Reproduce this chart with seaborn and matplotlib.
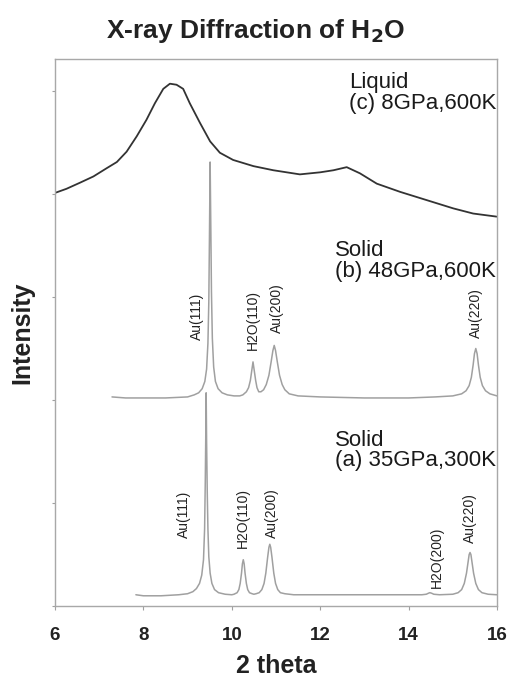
import numpy as np
import pandas as pd
import matplotlib
matplotlib.use("Agg")
import matplotlib.pyplot as plt
import seaborn as sns

# ---- data ----
liquid_x = [6.0, 6.26, 6.57, 6.87, 7.17, 7.40, 7.62, 7.85, 8.07, 8.26, 8.45, 8.60, 8.75, 8.90,
            9.05, 9.28, 9.51, 9.73, 10.03, 10.49, 10.94, 11.54, 12.0, 12.30, 12.60, 12.90,
            13.28, 13.81, 14.41, 15.01, 15.46, 15.99]
liquid_y = [4.01, 4.05, 4.11, 4.17, 4.25, 4.31, 4.41, 4.56, 4.72, 4.88, 5.02, 5.07, 5.06, 5.02,
            4.88, 4.69, 4.51, 4.40, 4.33, 4.27, 4.23, 4.19, 4.21, 4.23, 4.26, 4.20,
            4.10, 4.02, 3.94, 3.86, 3.81, 3.78]

solid_b_x = [7.29, 7.6, 8.0, 8.5, 9.0, 9.15, 9.25, 9.33, 9.39, 9.43, 9.46, 9.48, 9.495, 9.51,
             9.525, 9.54, 9.56, 9.59, 9.63, 9.69, 9.78, 9.9, 10.05, 10.18,
             10.25, 10.33, 10.38, 10.42, 10.45, 10.48, 10.51, 10.54, 10.57, 10.61,
             10.66, 10.72, 10.78, 10.84, 10.89, 10.93, 10.96, 10.99, 11.03, 11.08, 11.14, 11.2,
             11.3, 11.5, 12.0, 13.0, 14.0, 14.6, 15.0, 15.2, 15.3, 15.37, 15.42, 15.46, 15.49,
             15.52, 15.55, 15.58, 15.62, 15.67, 15.74, 15.84, 16.0]
solid_b_y = [2.03, 2.02, 2.02, 2.02, 2.03, 2.05, 2.07, 2.11, 2.18, 2.30, 2.55, 2.95, 3.60, 4.31,
             3.70, 3.05, 2.60, 2.32, 2.18, 2.11, 2.07, 2.05, 2.04, 2.04,
             2.05, 2.08, 2.12, 2.19, 2.28, 2.37, 2.28, 2.19, 2.12, 2.08,
             2.08, 2.10, 2.15, 2.24, 2.37, 2.48, 2.53, 2.48, 2.37, 2.24, 2.15, 2.10,
             2.06, 2.04, 2.03, 2.02, 2.02, 2.03, 2.04, 2.06, 2.09, 2.14, 2.22, 2.34, 2.45,
             2.50, 2.45, 2.34, 2.22, 2.14, 2.09, 2.06, 2.04]

solid_a_x = [7.83, 8.0, 8.4, 8.8, 9.0, 9.12, 9.2, 9.27, 9.32, 9.36, 9.385, 9.40, 9.41, 9.42,
             9.43, 9.445, 9.46, 9.48, 9.51, 9.55, 9.61, 9.7, 9.85, 10.0,
             10.05, 10.12, 10.16, 10.19, 10.22, 10.24, 10.26, 10.28, 10.30, 10.33, 10.36, 10.40,
             10.46, 10.50, 10.55, 10.62, 10.68, 10.73, 10.77, 10.81, 10.84, 10.86, 10.88, 10.91,
             10.95, 10.99, 11.04, 11.1, 11.2, 11.4, 12.0, 13.0, 14.0, 14.3, 14.4, 14.45, 14.48,
             14.52, 14.57, 14.7, 15.0, 15.12, 15.2, 15.26, 15.31, 15.35, 15.37, 15.39, 15.41,
             15.43, 15.47, 15.52, 15.58, 15.66, 15.8, 16.0]
solid_a_y = [0.11, 0.10, 0.10, 0.11, 0.12, 0.14, 0.17, 0.22, 0.30, 0.45, 0.75, 1.20, 1.60, 2.07,
             1.60, 1.10, 0.75, 0.48, 0.32, 0.22, 0.16, 0.13, 0.115, 0.11,
             0.115, 0.13, 0.16, 0.22, 0.32, 0.41, 0.45, 0.41, 0.32, 0.22, 0.16, 0.13,
             0.12, 0.115, 0.12, 0.13, 0.16, 0.22, 0.32, 0.47, 0.57, 0.60, 0.57, 0.47,
             0.32, 0.22, 0.16, 0.13, 0.12, 0.11, 0.11, 0.11, 0.11, 0.11, 0.115, 0.125, 0.13,
             0.125, 0.115, 0.11, 0.115, 0.13, 0.16, 0.22, 0.32, 0.44, 0.50, 0.52, 0.50,
             0.44, 0.32, 0.22, 0.16, 0.13, 0.115, 0.11]

peak_labels_b = ["Au(111)", "H2O(110)", "Au(200)", "Au(220)"]
peak_label_b_x = [9.21, 10.48, 11.02, 15.52]
peak_label_b_y = [2.58, 2.49, 2.65, 2.60]

peak_labels_a = ["Au(111)", "H2O(110)", "Au(200)", "H2O(200)", "Au(220)"]
peak_label_a_x = [8.92, 10.26, 10.91, 14.64, 15.39]
peak_label_a_y = [0.66, 0.56, 0.66, 0.18, 0.61]

phase_texts = ["Liquid\n(c) 8GPa,600K", "Solid\n(b) 48GPa,600K", "Solid\n(a) 35GPa,300K"]
phase_x = [12.65, 12.33, 12.33]
phase_y = [5.18, 3.55, 1.71]

x_ticks = [6, 8, 10, 12, 14, 16]

# ---- plotting ----
sns.set_theme(style="white")
plt.rcParams['font.family'] = ['Liberation Sans', 'DejaVu Sans']

fig = plt.figure(figsize=(5.11, 6.81), dpi=100)
ax = fig.add_axes([0.1076, 0.110, 0.865, 0.8034])

df_c = pd.DataFrame({"x": liquid_x, "y": liquid_y})
df_b = pd.DataFrame({"x": solid_b_x, "y": solid_b_y})
df_a = pd.DataFrame({"x": solid_a_x, "y": solid_a_y})

sns.lineplot(data=df_c, x="x", y="y", ax=ax, color="#333333", lw=1.3, estimator=None, sort=False)
sns.lineplot(data=df_b, x="x", y="y", ax=ax, color="#a0a0a0", lw=1.1, estimator=None, sort=False)
sns.lineplot(data=df_a, x="x", y="y", ax=ax, color="#a0a0a0", lw=1.1, estimator=None, sort=False)

for t, x, y in zip(peak_labels_b, peak_label_b_x, peak_label_b_y):
    ax.text(x, y, t, rotation=90, ha="center", va="bottom", fontsize=10, color="#222222")
for t, x, y in zip(peak_labels_a, peak_label_a_x, peak_label_a_y):
    ax.text(x, y, t, rotation=90, ha="center", va="bottom", fontsize=10, color="#222222")
for t, x, y in zip(phase_texts, phase_x, phase_y):
    ax.text(x, y, t, ha="left", va="top", fontsize=16, color="#1a1a1a", linespacing=0.95)

ax.set_xlim(6, 16)
ax.set_ylim(0, 5.31)
ax.set_xticks(x_ticks)
ax.set_xticklabels([str(v) for v in x_ticks], fontsize=13.5, fontweight="bold", color="#222222")
ax.set_yticks([0, 1, 2, 3, 4, 5])
ax.set_yticklabels([])
ax.tick_params(axis="x", direction="out", length=3, width=0.8, color="#a0a0a0", pad=12, bottom=True)
ax.tick_params(axis="y", direction="out", length=2, width=0.8, color="#a0a0a0", left=True)
for s in ax.spines.values():
    s.set_color("#a8a8a8")
    s.set_linewidth(1.0)

ax.set_xlabel("2 theta", fontsize=18, fontweight="bold", color="#222222", labelpad=7)
ax.set_ylabel("Intensity", fontsize=18, fontweight="bold", color="#222222", labelpad=9)
fig.text(0.5, 0.954, "X-ray Diffraction of H$_\\mathbf{2}$O", ha="center", va="center",
         fontsize=19, fontweight="bold", color="#222222")

fig.savefig("out.png", dpi=100)
